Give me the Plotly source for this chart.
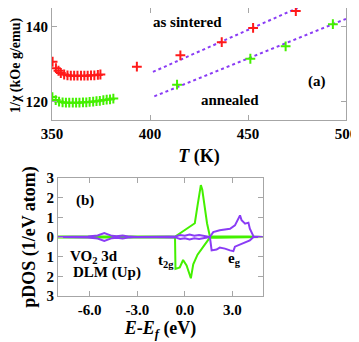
import plotly.graph_objects as go

# (a) inverse susceptibility vs temperature
sint_T = [350.3, 352.0, 353.3, 354.5, 356.2, 357.9, 359.6, 361.3, 363.0, 364.8, 366.5,
          368.2, 369.9, 371.6, 373.4, 374.7, 393.3, 415.5, 436.6, 452.6, 474.4]
sint_v = [130.7, 129.0, 128.3, 127.7, 127.3, 127.1, 127.0, 127.0, 127.0, 127.0, 127.0,
          127.0, 127.1, 127.1, 127.2, 127.3, 129.4, 132.4, 135.9, 139.7, 144.2]
ann_T = [350.2, 351.9, 353.6, 355.4, 357.1, 358.8, 360.6, 362.3, 364.0, 365.8, 367.5,
         369.2, 371.0, 372.7, 374.4, 376.2, 377.9, 379.6, 381.3, 413.8, 451.2, 469.2, 493.3]
ann_v = [121.3, 120.5, 120.1, 119.9, 119.8, 119.8, 119.8, 119.8, 119.8, 119.9, 119.9,
         120.0, 120.1, 120.2, 120.3, 120.5, 120.6, 120.7, 120.9, 124.6, 131.5, 134.8, 140.7]
fit_sint_T = [401.5, 475.3]
fit_sint_v = [128.0, 145.0]
fit_ann_T = [402.2, 500.0]
fit_ann_v = [121.5, 142.1]

# (b) pDOS, up (+) and down (-)
t2g_up_E = [-8.0, -7.0, -6.0, -5.0, -4.0, -3.0, -2.0, -1.0, -0.63, -0.3, 0.0, 0.3, 0.63,
            0.8, 0.95, 1.01, 1.1, 1.27, 1.4, 1.58, 2.0, 3.0, 4.0, 4.4, 4.9]
t2g_up_v = [0.02, 0.03, 0.02, 0.03, 0.02, 0.03, 0.02, 0.02, 0.01, 0.2, 0.35, 0.5, 0.7,
            1.6, 2.4, 2.64, 2.4, 1.46, 0.7, 0.03, 0.04, 0.03, 0.02, 0.0, 0.0]
t2g_dn_E = [-8.0, -7.0, -6.0, -5.0, -4.0, -3.0, -2.0, -1.0, -0.62, -0.59, -0.32, -0.11,
            0.11, 0.38, 0.53, 0.8, 1.2, 1.58, 2.0, 3.0, 4.0, 4.4, 4.9]
t2g_dn_v = [-0.02, -0.03, -0.02, -0.03, -0.02, -0.03, -0.02, -0.02, -0.01, -1.62, -1.55,
            -1.17, -1.45, -2.1, -1.39, -0.9, -0.45, -0.03, -0.04, -0.03, -0.02, 0.0, 0.0]
eg_up_E = [-8.0, -6.5, -6.1, -5.5, -5.08, -4.6, -4.3, -3.92, -3.5, -3.0, -1.0, -0.6, -0.3,
           0.0, 0.3, 0.6, 0.9, 1.2, 1.58, 1.79, 2.2, 2.85, 3.16, 3.48, 3.58, 3.8, 4.01,
           4.1, 4.33, 4.9]
eg_up_v = [0.0, 0.0, 0.02, 0.08, 0.2, 0.06, 0.04, 0.08, 0.02, 0.0, 0.0, 0.02, 0.1,
           0.06, 0.12, 0.06, 0.1, 0.05, 0.0, 0.25, 0.34, 0.42, 0.59, 1.1, 0.85, 0.68, 0.73,
           0.42, 0.03, 0.0]
eg_dn_E = [-8.0, -6.5, -6.1, -5.5, -5.08, -4.6, -4.3, -3.92, -3.5, -3.0, -1.0, -0.6, -0.3,
           0.0, 0.3, 0.6, 0.9, 1.2, 1.58, 1.69, 2.0, 2.2, 2.53, 2.85, 3.06, 3.16, 3.48,
           3.8, 4.1, 4.33, 4.9]
eg_dn_v = [0.0, 0.0, -0.02, -0.08, -0.2, -0.06, -0.04, -0.08, -0.02, 0.0, 0.0, -0.02, -0.1,
           -0.06, -0.12, -0.06, -0.1, -0.05, 0.0, -0.68, -0.64, -0.54, -0.59, -0.68, -0.72,
           -0.49, -0.39, -0.27, -0.17, 0.0, 0.0]

RED = "#ff1a1a"
GREEN = "#44f000"
PURPLE = "#8a3cf5"
GREY = "#a6a6a6"
FONT = "Liberation Serif"
FS = 15

# the page body has an 8px margin, so the figure is sized to fit what is left
PAD = 8
W, H = 359 - PAD, 342 - PAD


def px(x):
    return (x - PAD) / W


def py(y):
    return 1 - (y - PAD) / H


fig = go.Figure()

fig.add_trace(go.Scatter(x=fit_sint_T, y=fit_sint_v, mode="lines",
                         line=dict(color=PURPLE, width=2, dash="dot"), xaxis="x", yaxis="y"))
fig.add_trace(go.Scatter(x=fit_ann_T, y=fit_ann_v, mode="lines",
                         line=dict(color=PURPLE, width=2, dash="dot"), xaxis="x", yaxis="y"))
fig.add_trace(go.Scatter(x=sint_T, y=sint_v, mode="markers",
                         marker=dict(symbol="cross-thin", size=7, line=dict(color=RED, width=2)),
                         xaxis="x", yaxis="y"))
fig.add_trace(go.Scatter(x=ann_T, y=ann_v, mode="markers",
                         marker=dict(symbol="cross-thin", size=7, line=dict(color=GREEN, width=2)),
                         xaxis="x", yaxis="y"))

for E, v, c in [(t2g_up_E, t2g_up_v, GREEN), (t2g_dn_E, t2g_dn_v, GREEN),
                (eg_up_E, eg_up_v, PURPLE), (eg_dn_E, eg_dn_v, PURPLE)]:
    fig.add_trace(go.Scatter(x=E, y=v, mode="lines", line=dict(color=c, width=2),
                             xaxis="x2", yaxis="y2"))

axis_common = dict(showline=True, linecolor=GREY, linewidth=1, mirror="ticks",
                   ticks="inside", ticklen=5, tickcolor=GREY, showgrid=False, zeroline=False,
                   automargin=False,
                   tickfont=dict(family=FONT, size=FS, color="black", weight="bold"))

fig.update_layout(
    width=W, height=H,
    margin=dict(l=0, r=0, t=0, b=0),
    paper_bgcolor="white", plot_bgcolor="white",
    showlegend=False,
    font=dict(family=FONT, size=FS, color="black", weight="bold"),
    xaxis=dict(domain=[px(52), px(346)], anchor="y", range=[350, 500],
               tickvals=[350, 400, 450, 500],
               title=dict(text="<i>T</i> (K)", standoff=8), **axis_common),
    yaxis=dict(domain=[py(120), 1], anchor="x", range=[115.2, 145],
               tickvals=[120, 140], **axis_common),
    xaxis2=dict(domain=[px(58), px(263)], anchor="y2", range=[-8, 4.93],
                tickvals=[-6, -3, 0, 3], ticktext=["-6.0", "-3.0", "0.0", "3.0"],
                title=dict(text="<i>E</i>-<i>E<sub>f</sub></i> (eV)", standoff=4),
                **axis_common),
    yaxis2=dict(domain=[py(296), py(178)], anchor="x2", range=[-3, 3],
                tickvals=[-3, -2, -1, 0, 1, 2, 3],
                ticktext=["3", "2", "1", "0", "1", "2", "3"],
                title=dict(text="pDOS (1/eV atom)", standoff=6), **axis_common),
)

# y title of panel (a), placed by hand so it stays inside the page
fig.add_annotation(text="1/χ (kOe g/emu)", xref="paper", yref="paper",
                   x=px(16), y=py(66), textangle=-90, showarrow=False,
                   xanchor="center", yanchor="middle",
                   font=dict(family=FONT, size=14, color="black", weight="bold"))

notes = [
    ("as sintered", 187, 22),
    ("annealed", 230, 100),
    ("(a)", 317, 81),
    ("(b)", 85, 200),
    ("VO<sub>2</sub> 3d", 94, 257),
    ("DLM (Up)", 107, 272),
    ("t<sub>2g</sub>", 166, 261),
    ("e<sub>g</sub>", 234, 259),
]
for text, x, y in notes:
    fig.add_annotation(text=text, xref="paper", yref="paper", x=px(x), y=py(y),
                       showarrow=False, xanchor="center", yanchor="middle",
                       font=dict(family=FONT, size=FS, color="black", weight="bold"))

fig.write_html("out.html")
